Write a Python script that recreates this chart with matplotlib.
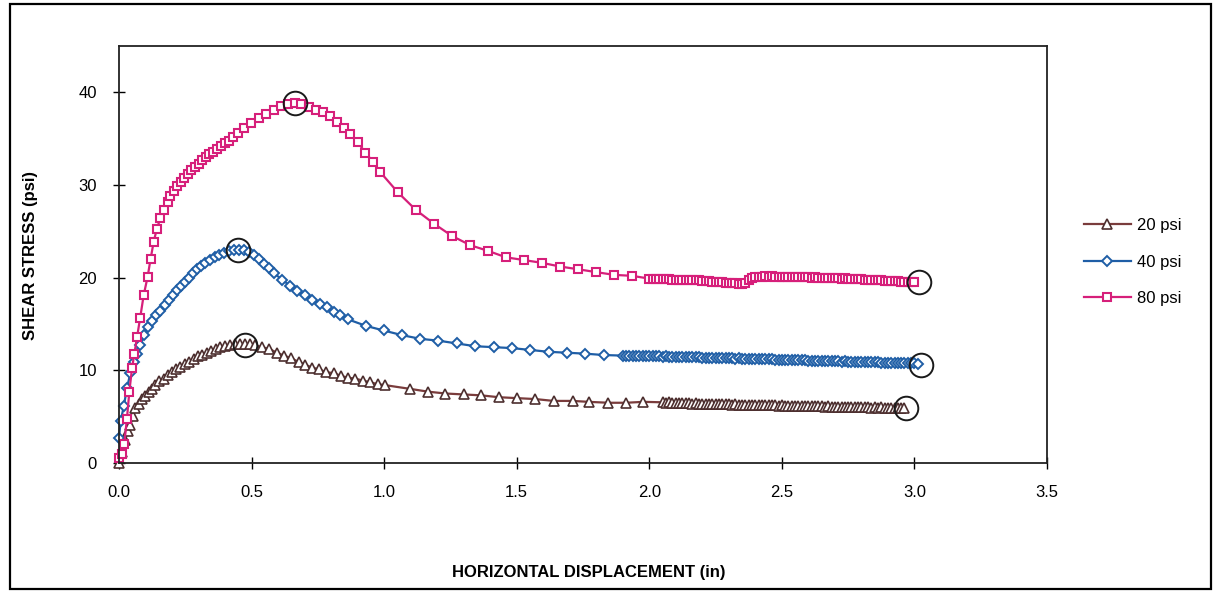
import matplotlib
matplotlib.use("Agg")
import matplotlib.pyplot as plt
from matplotlib.patches import Rectangle

plt.rcParams['font.family'] = ['Liberation Sans', 'DejaVu Sans']

# ---------------- data ----------------
# Densely logged tail readings (horizontal displacement, in)
TAIL_X = [1.9, 1.9125, 1.925, 1.9375, 1.95, 1.9625, 1.975, 1.9875,
          2.0, 2.0125, 2.025, 2.0375, 2.05, 2.0625, 2.075, 2.0875,
          2.1, 2.1125, 2.125, 2.1375, 2.15, 2.1625, 2.175, 2.1875,
          2.2, 2.2125, 2.225, 2.2375, 2.25, 2.2625, 2.275, 2.2875,
          2.3, 2.3125, 2.325, 2.3375, 2.35, 2.3625, 2.375, 2.3875,
          2.4, 2.4125, 2.425, 2.4375, 2.45, 2.4625, 2.475, 2.4875,
          2.5, 2.5125, 2.525, 2.5375, 2.55, 2.5625, 2.575, 2.5875,
          2.6, 2.6125, 2.625, 2.6375, 2.65, 2.6625, 2.675, 2.6875,
          2.7, 2.7125, 2.725, 2.7375, 2.75, 2.7625, 2.775, 2.7875,
          2.8, 2.8125, 2.825, 2.8375, 2.85, 2.8625, 2.875, 2.8875,
          2.9, 2.9125, 2.925, 2.9375, 2.95, 2.9625, 2.975, 2.9875,
          3.0, 3.0125]

# 20 psi
s20_x = [0.0, 0.012, 0.022, 0.033, 0.043, 0.052, 0.062, 0.074, 0.087, 0.099,
         0.112, 0.124, 0.137, 0.152, 0.168, 0.185, 0.200, 0.215, 0.231, 0.248,
         0.265, 0.282, 0.298, 0.313, 0.332, 0.348, 0.366, 0.382, 0.401, 0.420,
         0.439, 0.457, 0.476, 0.495, 0.514, 0.539, 0.567, 0.596, 0.621, 0.650,
         0.678, 0.703, 0.728, 0.755, 0.781, 0.810, 0.837, 0.864, 0.891, 0.919,
         0.948, 0.977, 1.004, 1.098, 1.165, 1.231, 1.300, 1.366, 1.432, 1.501,
         1.570, 1.639, 1.711, 1.771, 1.846, 1.912, 1.978] + TAIL_X[12:86]
s20_y = [0.0, 1.2, 2.5, 3.4, 4.1, 5.1, 5.9, 6.4, 6.9, 7.2,
         7.7, 8.0, 8.4, 8.8, 9.1, 9.5, 9.8, 10.1, 10.4, 10.7,
         10.9, 11.2, 11.5, 11.7, 11.9, 12.1, 12.3, 12.5, 12.6, 12.7,
         12.8, 12.8, 12.8, 12.8, 12.7, 12.5, 12.3, 11.9, 11.6, 11.3,
         10.9, 10.6, 10.3, 10.1, 9.8, 9.7, 9.4, 9.2, 9.1, 8.9,
         8.7, 8.5, 8.4, 8.0, 7.7, 7.5, 7.4, 7.3, 7.1, 7.0,
         6.9, 6.7, 6.7, 6.6, 6.5, 6.5, 6.6,
         6.55, 6.50, 6.53, 6.48,
         6.50, 6.46, 6.48, 6.44, 6.45, 6.42, 6.44, 6.40,
         6.42, 6.38, 6.40, 6.36, 6.38, 6.34, 6.36, 6.32,
         6.34, 6.30, 6.32, 6.29, 6.30, 6.27, 6.29, 6.25,
         6.27, 6.24, 6.26, 6.22, 6.24, 6.21, 6.23, 6.19,
         6.21, 6.18, 6.20, 6.16, 6.18, 6.15, 6.17, 6.13,
         6.15, 6.12, 6.14, 6.10, 6.12, 6.09, 6.11, 6.07,
         6.09, 6.06, 6.08, 6.04, 6.06, 6.03, 6.05, 6.01,
         6.03, 6.00, 6.02, 5.98, 6.00, 5.97, 5.99, 5.95,
         5.97, 5.94, 5.96, 5.92, 5.94, 5.90]

# 40 psi
s40_x = [0.0, 0.006, 0.018, 0.030, 0.043, 0.055, 0.068, 0.080, 0.093, 0.109,
         0.124, 0.140, 0.156, 0.172, 0.187, 0.202, 0.219, 0.234, 0.248, 0.263,
         0.278, 0.294, 0.310, 0.325, 0.344, 0.361, 0.376, 0.395, 0.413, 0.432,
         0.451, 0.470, 0.489, 0.508, 0.527, 0.546, 0.565, 0.583, 0.615, 0.646,
         0.671, 0.703, 0.728, 0.759, 0.784, 0.810, 0.834, 0.864, 0.931, 0.998,
         1.067, 1.136, 1.205, 1.275, 1.344, 1.413, 1.482, 1.551, 1.620, 1.689,
         1.758, 1.828] + TAIL_X[0:90]
s40_y = [2.7, 4.5, 6.1, 8.1, 9.7, 10.9, 11.8, 12.7, 13.8, 14.7,
         15.3, 16.0, 16.4, 17.0, 17.6, 18.1, 18.7, 19.1, 19.5, 20.0,
         20.5, 20.9, 21.3, 21.6, 21.9, 22.2, 22.4, 22.7, 22.9, 23.0,
         23.0, 23.0, 22.8, 22.4, 22.0, 21.5, 21.0, 20.5, 19.8, 19.1,
         18.6, 18.1, 17.6, 17.2, 16.8, 16.3, 16.0, 15.5, 14.8, 14.3,
         13.8, 13.4, 13.2, 12.9, 12.6, 12.5, 12.4, 12.2, 12.0, 11.9,
         11.8, 11.65,
         11.60, 11.58, 11.60, 11.56, 11.57, 11.55, 11.56, 11.53,
         11.52, 11.54, 11.50, 11.51, 11.48, 11.50, 11.46, 11.47,
         11.45, 11.46, 11.43, 11.44, 11.41, 11.42, 11.39, 11.40,
         11.37, 11.38, 11.35, 11.36, 11.33, 11.34, 11.31, 11.32,
         11.29, 11.30, 11.27, 11.28, 11.25, 11.26, 11.23, 11.24,
         11.21, 11.22, 11.19, 11.20, 11.17, 11.18, 11.15, 11.16,
         11.13, 11.14, 11.11, 11.12, 11.09, 11.10, 11.07, 11.08,
         11.05, 11.06, 11.03, 11.04, 11.01, 11.02, 10.99, 11.00,
         10.97, 10.98, 10.95, 10.96, 10.93, 10.94, 10.91, 10.92,
         10.89, 10.90, 10.87, 10.88, 10.85, 10.86, 10.83, 10.84,
         10.81, 10.82, 10.79, 10.80, 10.77, 10.78, 10.75, 10.76,
         10.74, 10.72]

# 80 psi
s80_x = [0.0, 0.011, 0.020, 0.030, 0.039, 0.049, 0.058, 0.068, 0.080, 0.093,
         0.108, 0.119, 0.131, 0.143, 0.156, 0.168, 0.185, 0.194, 0.206, 0.219,
         0.234, 0.244, 0.260, 0.273, 0.285, 0.300, 0.313, 0.328, 0.341, 0.354,
         0.370, 0.385, 0.398, 0.413, 0.430, 0.449, 0.470, 0.499, 0.527, 0.554,
         0.583, 0.612, 0.637, 0.662, 0.687, 0.715, 0.743, 0.769, 0.797, 0.822,
         0.847, 0.872, 0.901, 0.929, 0.958, 0.985, 1.052, 1.120, 1.189, 1.256,
         1.325, 1.391, 1.459, 1.528, 1.595, 1.664, 1.733, 1.799, 1.868, 1.934] + TAIL_X[8:89]
s80_y = [0.5, 1.0, 2.1, 4.8, 7.7, 10.2, 11.8, 13.6, 15.7, 18.1,
         20.1, 22.0, 23.9, 25.3, 26.4, 27.3, 28.2, 28.8, 29.4, 29.9,
         30.3, 30.8, 31.2, 31.6, 31.9, 32.3, 32.7, 33.0, 33.3, 33.6,
         33.9, 34.2, 34.5, 34.8, 35.2, 35.6, 36.2, 36.7, 37.2, 37.7,
         38.1, 38.5, 38.7, 38.8, 38.7, 38.4, 38.1, 37.9, 37.4, 36.8,
         36.2, 35.5, 34.6, 33.5, 32.5, 31.4, 29.2, 27.3, 25.8, 24.5,
         23.5, 22.9, 22.2, 21.9, 21.6, 21.2, 20.9, 20.6, 20.3, 20.2,
         19.90, 19.88, 19.90, 19.85, 19.86, 19.82, 19.84, 19.80, 19.78,
         19.80, 19.76, 19.78, 19.74, 19.72, 19.75, 19.70, 19.68,
         19.64, 19.62, 19.58, 19.55, 19.52, 19.50, 19.46, 19.44,
         19.40, 19.38, 19.34, 19.30,
         19.45, 19.75, 19.95, 20.05,
         20.10, 20.12, 20.15, 20.12, 20.14, 20.10, 20.12, 20.10,
         20.08, 20.10, 20.06, 20.08, 20.05, 20.06, 20.02, 20.04,
         20.00, 20.02, 19.98, 20.00, 19.96, 19.97, 19.94, 19.95,
         19.92, 19.90, 19.92, 19.88, 19.86, 19.87, 19.84, 19.82,
         19.80, 19.78, 19.76, 19.74, 19.72, 19.70, 19.68, 19.66,
         19.64, 19.62, 19.60, 19.58, 19.56, 19.54, 19.52, 19.50]

# hand-drawn circles (peak and end points)
circle_x = [0.664, 0.449, 0.475, 3.017, 3.024, 2.968]
circle_y = [38.8, 23.0, 12.7, 19.5, 10.6, 5.9]

labels = ["20 psi", "40 psi", "80 psi"]
x_ticks = [0.0, 0.5, 1.0, 1.5, 2.0, 2.5, 3.0, 3.5]
y_ticks = [0, 10, 20, 30, 40]

# ---------------- figure ----------------
W, H = 1216, 592
fig = plt.figure(figsize=(W / 100, H / 100), dpi=100)
fig.patch.set_facecolor('white')

# outer chart border
fig.patches.append(Rectangle((10 / W, 3 / H), 1201 / W, 585 / H, transform=fig.transFigure,
                             fill=False, edgecolor='black', linewidth=1.6))

ax = fig.add_axes([119 / W, 1 - 463 / H, (1047 - 119) / W, (463 - 46) / H])

pink = '#d61f7a'
blue = '#1f5ea6'
brown = '#7a3c3c'

ax.plot(s20_x, s20_y, color=brown, lw=1.6, marker='^', ms=6.5, mfc='white',
        mec='#4d2f2f', mew=1.2, clip_on=False, label=labels[0])
ax.plot(s40_x, s40_y, color=blue, lw=1.6, marker='D', ms=4.8, mfc='white',
        mec=blue, mew=1.4, clip_on=False, label=labels[1])
ax.plot(s80_x, s80_y, color=pink, lw=1.6, marker='s', ms=5.8, mfc='white',
        mec=pink, mew=1.5, clip_on=False, label=labels[2])

ax.plot(circle_x, circle_y, linestyle='none', marker='o', ms=17, mfc='none',
        mec='#1a1a1a', mew=1.4, clip_on=False)

ax.set_xlim(0, 3.5)
ax.set_ylim(0, 45)
ax.set_xticks(x_ticks)
ax.set_xticklabels([f"{v:.1f}" for v in x_ticks])
ax.set_yticks(y_ticks)
ax.set_yticklabels([str(v) for v in y_ticks])
ax.tick_params(axis='both', direction='inout', length=8, width=1.0, labelsize=12,
               colors='black')
ax.tick_params(axis='y', pad=12)
ax.tick_params(axis='x', pad=12)
for sp in ax.spines.values():
    sp.set_linewidth(1.3)
    sp.set_color('#222222')

fig.text(31 / W, 1 - 255 / H, "SHEAR STRESS (psi)", rotation=90, ha='center', va='center',
         fontsize=12, fontweight='bold')
fig.text(589 / W, 1 - 572 / H, "HORIZONTAL DISPLACEMENT (in)", ha='center', va='center',
         fontsize=12, fontweight='bold')

fig.legend(loc='center left', bbox_to_anchor=(1084 / W, 1 - 262 / H), frameon=False,
           fontsize=12, handlelength=2.8, handletextpad=0.4, labelspacing=1.3,
           borderpad=0, borderaxespad=0, markerscale=1.0)

fig.savefig('out.png', dpi=100, facecolor='white')
